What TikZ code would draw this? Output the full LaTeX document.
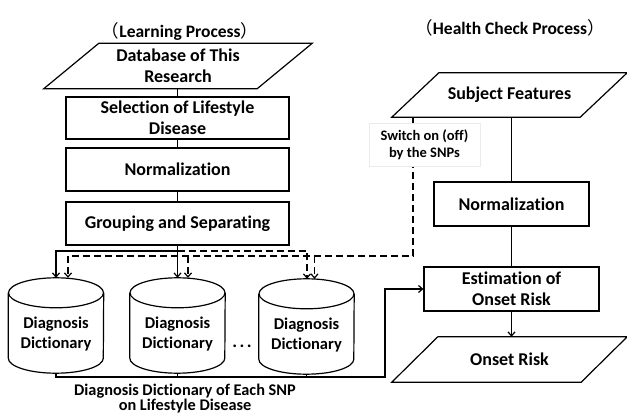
\documentclass[tikz,border=0pt]{standalone}
\usepackage{fontspec}
\setmainfont{Carlito}[Ligatures={NoCommon}]
\newfontfamily\cjkfont{Noto Sans CJK SC}
\usetikzlibrary{arrows.meta,calc}

% parallelogram outline around a rectangular node: #1 node, #2 slant
\newcommand\slantframe[2]{%
  \draw[line, line join=miter] ([xshift=#2]#1.north west) -- (#1.north east)
    -- ([xshift=-#2]#1.south east) -- (#1.south west) -- cycle;}
% database drum outline around a node
\newcommand\drumframe[1]{%
  \draw[line] ($(#1.north)+(0,-15pt)$) ellipse [x radius=47.5pt, y radius=15pt];
  \draw[line] ($(#1.north west)+(0,-15pt)$) -- ($(#1.south west)+(0,15pt)$)
    arc[start angle=180, end angle=360, x radius=47.5pt, y radius=15pt]
    -- ($(#1.north east)+(0,-15pt)$);}

\begin{document}
\begin{tikzpicture}[x=1pt, y=-1pt,
  line/.style={line width=1.2pt},
  flow/.style={line, -{Straight Barb[length=4pt,width=7pt,line width=1.2pt]}},
  dsh/.style={dash pattern=on 7pt off 4pt},
  bigtxt/.style={font=\bfseries\fontsize{18}{21.5}\selectfont},
  midtxt/.style={font=\bfseries\fontsize{16.5}{20}\selectfont},
  procbox/.style={draw, line width=1.2pt, inner sep=0pt, align=center, bigtxt},
  frame/.style={inner sep=0pt, align=center, bigtxt},
  heading/.style={anchor=base, font=\bfseries\fontsize{17.5}{21}\selectfont},
]
\useasboundingbox (0,0) rectangle (627,414);

% headings
\node[heading] (h1) at (180,38)
  {{\cjkfont\mdseries （}Learning Process{\cjkfont\mdseries ）}};
\node[heading] (h2) at (510,35)
  {{\cjkfont\mdseries （}Health Check Process{\cjkfont\mdseries ）}};

% learning chain
\node[frame, minimum width=268pt, minimum height=45pt] (db) at (178,66) {Database of This\\Research};
\slantframe{db}{55pt}
\node[procbox, minimum width=223pt, minimum height=42pt] (sel) at (177.5,118) {Selection of Lifestyle\\Disease};
\node[procbox, minimum width=223pt, minimum height=43pt] (nl) at (177.5,169.5) {Normalization};
\node[procbox, minimum width=223pt, minimum height=43pt] (grp) at (177.5,223.5) {Grouping and Separating};

\draw[line] (sel.north |- db.south) -- (sel.north);
\draw[line] (sel.south) -- (nl.north);
\draw[line] (nl.south) -- (grp.north);

% dictionaries
\node[minimum width=95pt, minimum height=95pt, inner sep=0pt] (c1) at (56,325.5) {};
\node[minimum width=95pt, minimum height=95pt, inner sep=0pt] (c2) at (177.5,325.5) {};
\node[minimum width=95pt, minimum height=95pt, inner sep=0pt] (c3) at (306.5,326.5) {};
\drumframe{c1}
\drumframe{c2}
\drumframe{c3}
\node[midtxt, align=center] (c1t) at (56,334) {Diagnosis\\Dictionary};
\node[midtxt, align=center] (c2t) at (177.5,334) {Diagnosis\\Dictionary};
\node[midtxt, align=center] (c3t) at (306.5,335) {Diagnosis\\Dictionary};
\node[bigtxt, anchor=base] (dots) at (242,347) {.\hspace{2.5pt}.\hspace{2.5pt}.};

% health check chain
\node[frame, minimum width=235pt, minimum height=44pt] (sf) at (509.5,95) {Subject Features};
\slantframe{sf}{47pt}
\node[procbox, minimum width=155pt, minimum height=44pt] (nr) at (511.5,204) {Normalization};
\node[procbox, minimum width=175pt, minimum height=44pt] (est) at (511.5,289) {Estimation of\\Onset Risk};
\node[frame, minimum width=235pt, minimum height=45pt] (onset) at (509.5,359.5) {Onset Risk};
\slantframe{onset}{46pt}

\draw[line] (nr.north |- sf.south) -- (nr.north);
\draw[line] (nr.south) -- (nr.south |- est.north);
\draw[flow] (est.south) -- (est.south |- onset.north);

% grouping output to each dictionary
\coordinate (split) at (grp.south |- 0,251);
\draw[line] (grp.south) -- (split);
\draw[flow] (split) -| (c1.north);
\draw[flow] (split) -- (c2.north);
\draw[flow, dsh] (split) -| ([xshift=0.5pt]c3.north);

% SNP switch line
\coordinate (swc) at (413,256);
\coordinate (c1b) at ([xshift=12pt]c1.north);
\coordinate (c2b) at ([xshift=10.5pt]c2.north);
\coordinate (c3b) at ([xshift=8pt]c3.north);
\draw[flow, dsh] (swc |- sf.south) -- (swc) -| (c1b);
\draw[flow, dsh] (c2b |- swc) -- (c2b);
\draw[flow, dsh] (c3b |- swc) -- (c3b);
\node[fill=white, draw=black!8, line width=0.4pt, inner sep=0pt, align=center,
      minimum width=111pt, minimum height=43pt,
      font=\bfseries\fontsize{14.5}{17}\selectfont] (swl) at (424.5,144.5)
  {Switch on (off)\\by the SNPs};

% dictionaries to estimation
\coordinate (bus) at (385,377);
\draw[flow] (c1.south) |- (bus) |- (est.west);
\draw[line] (c2.south) -- (c2.south |- bus);
\draw[line] (c3.south) -- (c3.south |- bus);
\node[font=\bfseries\fontsize{16.3}{15.5}\selectfont, align=center] (cap) at (185,398.5)
  {Diagnosis Dictionary of Each SNP\\on Lifestyle Disease};
\end{tikzpicture}
\end{document}
